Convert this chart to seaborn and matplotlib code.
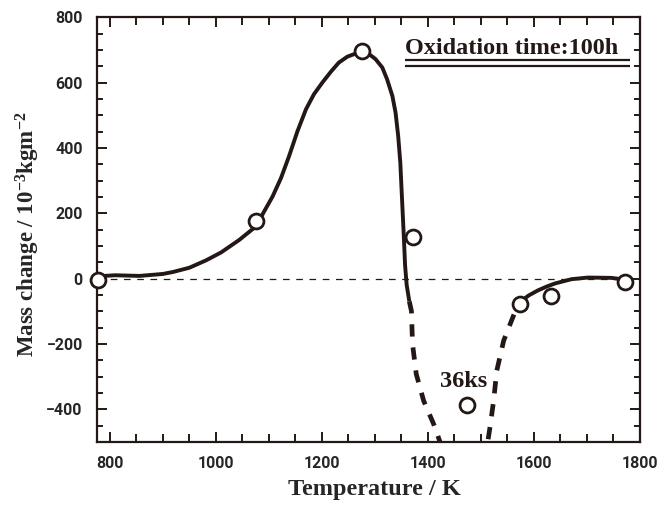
import matplotlib
matplotlib.use("Agg")
import matplotlib.pyplot as plt
from matplotlib.ticker import MultipleLocator
import seaborn as sns
import pandas as pd

# ---- data ----
solid1_x = [775, 790, 810, 856, 900, 919, 950, 982, 1010, 1044, 1076, 1091, 1107, 1123,
            1138, 1154, 1170, 1185, 1201, 1217, 1232, 1248, 1261, 1275, 1289, 1301, 1314,
            1323, 1333, 1339, 1344, 1348, 1351, 1354, 1357, 1360, 1365]
solid1_y = [0, 8, 10, 8, 14, 20, 33, 56, 80, 118, 160, 205, 251, 308,
            374, 451, 518, 564, 600, 633, 661, 679, 687, 691, 687, 672, 646,
            610, 559, 508, 436, 354, 251, 149, 40, -20, -70]

dash_x = [1365, 1369, 1371, 1378, 1392, 1411, 1425, 1445, 1470, 1495, 1512, 1517, 1524,
          1530, 1543, 1558, 1571]
dash_y = [-70, -100, -200, -292, -374, -446, -510, -570, -600, -570, -510, -457, -374,
          -282, -190, -128, -75]

solid2_x = [1571, 1590, 1608, 1625, 1640, 1671, 1702, 1746, 1770]
solid2_y = [-75, -52, -36, -24, -15, -2, 3, 2, -3]

pts_x = [777, 1075, 1275, 1372, 1473, 1573, 1633, 1771]
pts_y = [-5, 177, 697, 126, -388, -78, -53, -10]

x_ticks = [800, 1000, 1200, 1400, 1600, 1800]
y_ticks = [-400, -200, 0, 200, 400, 600, 800]

title_text = "Oxidation time:100h"
note_text = "36ks"
x_label = "Temperature / K"
y_label = r"Mass change / 10$^{\mathbf{-3}}$kgm$^{\mathbf{-2}}$"

# ---- style ----
sns.set_style("ticks")
plt.rcParams["font.family"] = ["Roboto", "DejaVu Sans"]
plt.rcParams["mathtext.fontset"] = "custom"
plt.rcParams["mathtext.rm"] = "Liberation Serif:bold"
plt.rcParams["mathtext.bf"] = "Liberation Serif:bold"
plt.rcParams["mathtext.it"] = "Liberation Serif:bold"

ink = "#231815"

fig = plt.figure(figsize=(6.57, 5.05), dpi=100)
ax = fig.add_axes([0.147, 0.125, 0.827, 0.841])

# zero reference line
ax.axhline(0, color=ink, lw=0.9, linestyle=(0, (5.3, 5.3)), zorder=1)

df1 = pd.DataFrame({"x": solid1_x, "y": solid1_y})
df2 = pd.DataFrame({"x": dash_x, "y": dash_y})
df3 = pd.DataFrame({"x": solid2_x, "y": solid2_y})
dfp = pd.DataFrame({"x": pts_x, "y": pts_y})

sns.lineplot(data=df1, x="x", y="y", ax=ax, color=ink, lw=2.8, sort=False,
             estimator=None, zorder=2, solid_capstyle="butt", solid_joinstyle="round")
sns.lineplot(data=df2, x="x", y="y", ax=ax, color=ink, lw=3.4, sort=False,
             estimator=None, zorder=2, linestyle=(0, (2.6, 2.3)),
             dash_capstyle="butt")
sns.lineplot(data=df3, x="x", y="y", ax=ax, color=ink, lw=2.8, sort=False,
             estimator=None, zorder=2, solid_capstyle="butt", solid_joinstyle="round")
sns.scatterplot(data=dfp, x="x", y="y", ax=ax, s=115, facecolor="white",
                edgecolor=ink, linewidth=2.0, zorder=5, clip_on=False)

ax.set_xlim(775, 1800)
ax.set_ylim(-500, 800)
ax.set_xticks(x_ticks)
ax.set_yticks(y_ticks)
ax.xaxis.set_minor_locator(MultipleLocator(50))
ax.yaxis.set_minor_locator(MultipleLocator(50))
ax.tick_params(axis="both", which="both", direction="in", top=True, right=True,
               color=ink, width=1.4)
ax.tick_params(axis="x", which="major", length=7, pad=10, labelsize=11.5)
ax.tick_params(axis="x", which="minor", length=6)
ax.tick_params(axis="y", which="major", length=7, pad=10, labelsize=11.5)
ax.tick_params(axis="y", which="minor", length=4)
for lab in ax.get_xticklabels() + ax.get_yticklabels():
    lab.set_fontweight("bold")
for sp in ax.spines.values():
    sp.set_linewidth(1.6)
    sp.set_color(ink)

ax.set_xlabel(x_label, family="Liberation Serif", fontweight="bold", fontsize=17.5)
ax.set_ylabel(y_label, family="Liberation Serif", fontweight="bold", fontsize=16.5)
ax.xaxis.set_label_coords(0.512, -0.088)
ax.yaxis.set_label_coords(-0.100, 0.49)

ax.text(1356, 687, title_text, family="Liberation Serif", fontweight="bold",
        fontsize=17.5, ha="left", va="baseline", color=ink)
ax.hlines([669, 651], 1356, 1781, color=ink, lw=1.6)
ax.text(1467, -333, note_text, family="Liberation Serif", fontweight="bold",
        fontsize=17.5, ha="center", va="baseline", color=ink)

fig.savefig("out.png", dpi=100)
